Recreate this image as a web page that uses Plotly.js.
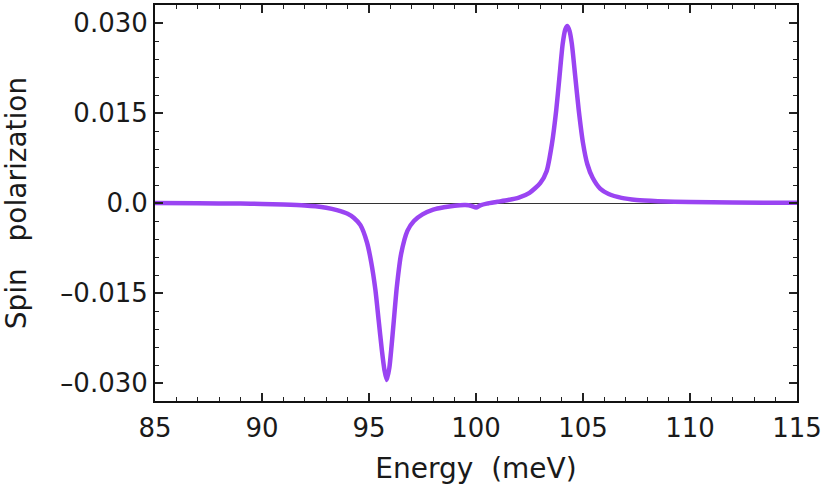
<!DOCTYPE html>
<html>
<head>
<meta charset="utf-8">
<script src="https://cdn.plot.ly/plotly-3.0.1.min.js"></script>
<style>
  html, body { margin: 0; padding: 0; background: #fff; }
  #plot { width: 831px; height: 489px; }
</style>
</head>
<body>
<div id="plot"></div>
<script>
// energy (meV) and spin polarization
var energy = [85, 87, 89, 90, 91, 92, 92.5, 93, 93.5, 94, 94.3, 94.6, 94.9, 95.1, 95.3, 95.45,
  95.6, 95.72, 95.83, 95.95, 96.05, 96.15, 96.3, 96.5, 96.8, 97.1, 97.5, 98, 98.5, 99, 99.5,
  99.8, 100, 100.2, 100.5, 101, 101.5, 102, 102.5, 103, 103.3, 103.55, 103.75, 103.9, 104.05,
  104.17, 104.27, 104.37, 104.48, 104.64, 104.8, 105.0, 105.2, 105.45, 105.8, 106.2, 106.8,
  107.5, 108.5, 110, 112, 115];
var polarization = [0.0, -0.05, -0.1, -0.15, -0.25, -0.4, -0.55, -0.8, -1.2, -1.8, -2.5, -3.7,
  -6.5, -9.8, -14.5, -19.5, -24.5, -27.8, -29.5, -27.5, -24, -20, -14, -8.5, -4.6, -3.0, -1.9,
  -1.1, -0.7, -0.45, -0.35, -0.5, -0.75, -0.4, -0.1, 0.2, 0.5, 0.9, 1.7, 3.3, 5.3, 9.9, 15.5,
  21, 26.5, 28.9, 29.5, 28.7, 26.5, 21, 15.5, 10, 6.5, 4.2, 2.4, 1.5, 0.85, 0.5, 0.3, 0.15,
  0.08, 0.04].map(function (v) { return v / 1000; });

var yTicks = [-0.030, -0.015, 0, 0.015, 0.030];
var yTickText = ['\u20130.030', '\u20130.015', '0.0', '0.015', '0.030'];
var xTicks = [85, 90, 95, 100, 105, 110, 115];

var tickFont = { family: 'DejaVu Sans, sans-serif', size: 26, color: '#1a1a1a' };
var titleFont = { family: 'DejaVu Sans, sans-serif', size: 28, color: '#1a1a1a' };

Plotly.newPlot('plot', [{
  x: energy,
  y: polarization,
  type: 'scatter',
  mode: 'lines',
  line: { color: '#9a44f2', width: 4.5, shape: 'spline', smoothing: 0.6 },
  hoverinfo: 'skip'
}], {
  width: 831,
  height: 489,
  margin: { l: 155, r: 34, t: 5, b: 88 },
  paper_bgcolor: '#fff',
  plot_bgcolor: '#fff',
  font: tickFont,
  showlegend: false,
  xaxis: {
    range: [85, 115],
    tickvals: xTicks,
    ticks: 'inside',
    ticklen: 8,
    tickwidth: 1.3,
    tickcolor: '#222',
    ticklabelstandoff: 3,
    minor: { dtick: 1, ticks: 'inside', ticklen: 4, tickwidth: 1, tickcolor: '#222' },
    showline: true,
    linecolor: '#111',
    linewidth: 2,
    mirror: 'allticks',
    showgrid: false,
    zeroline: false,
    tickfont: tickFont,
    title: { text: 'Energy  (meV)', font: titleFont, standoff: 16 }
  },
  yaxis: {
    range: [-0.033, 0.033],
    tickvals: yTicks,
    ticktext: yTickText,
    ticks: 'inside',
    ticklen: 8,
    tickwidth: 1.3,
    tickcolor: '#222',
    minor: { dtick: 0.003, tick0: 0, ticks: 'inside', ticklen: 4, tickwidth: 1, tickcolor: '#222' },
    showline: true,
    linecolor: '#111',
    linewidth: 2,
    mirror: 'allticks',
    showgrid: false,
    zeroline: true,
    zerolinecolor: '#333',
    zerolinewidth: 1,
    tickfont: tickFont,
    title: { text: 'Spin   polarization', font: titleFont, standoff: 26 }
  }
}, { displayModeBar: false, staticPlot: true });
</script>
</body>
</html>
